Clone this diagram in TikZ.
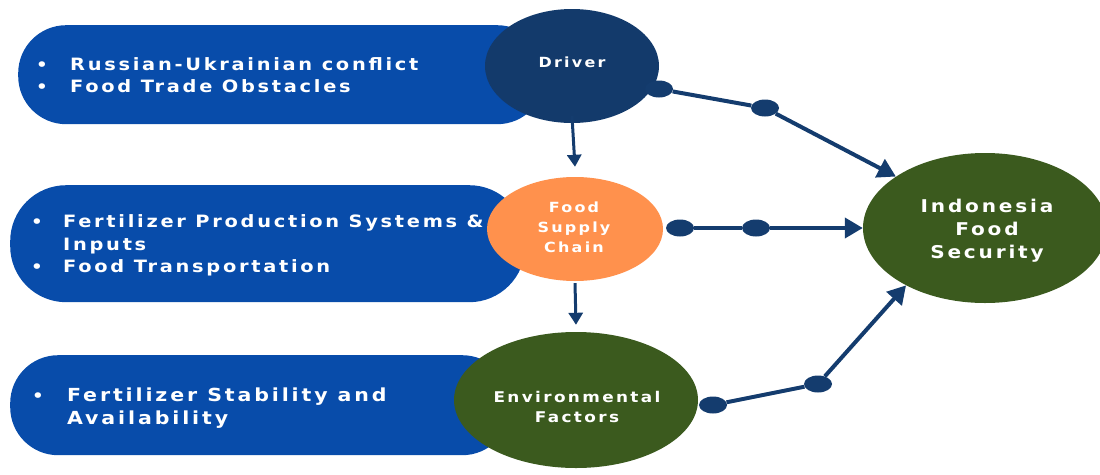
\documentclass[tikz,border=0pt]{standalone}
\usepackage{fontspec}
\setmainfont{DejaVu Sans}
\newfontfamily\lab{DejaVu Sans}[UprightFont=* Bold, LetterSpace=16, FakeStretch=1.14]
\usetikzlibrary{shapes.geometric,arrows.meta}
\definecolor{pillblue}{RGB}{8,76,170}
\definecolor{navyc}{RGB}{19,58,107}
\definecolor{orangec}{RGB}{255,145,77}
\definecolor{greenc}{RGB}{59,90,30}
\definecolor{arrowc}{RGB}{20,60,110}
\begin{document}
\begin{tikzpicture}[x=1pt,y=-1pt,
  pill/.style={fill=pillblue, rounded corners=48pt, anchor=north west, inner sep=0pt},
  blob/.style={ellipse, inner sep=0pt},
  txt/.style={text=white, inner sep=0pt, anchor=base west, font=\lab\fontsize{17}{20}\selectfont},
  ctxt/.style={text=white, inner sep=0pt, anchor=base, align=center, font=\lab\fontsize{14}{20}\selectfont},
  bul/.style={text=white, inner sep=0pt, anchor=base, font=\lab\fontsize{16}{20}\selectfont},
  dotc/.style={ellipse, fill=arrowc, minimum width=28pt, minimum height=17pt, inner sep=0pt},
  arr/.style={draw=arrowc, line width=4pt, -{Triangle[length=18pt,width=20pt]}},
  seg/.style={draw=arrowc, line width=4pt}
]
\useasboundingbox (0,0) rectangle (1100,474);
% pills
\node[pill, minimum width=527pt, minimum height=99pt] (p1) at (18,25) {};
\node[pill, minimum width=515pt, minimum height=117pt, rounded corners=56pt] (p2) at (10,185) {};
\node[pill, minimum width=500pt, minimum height=100pt] (p3) at (10,355) {};
% circles
\node[blob, fill=navyc, minimum width=174pt, minimum height=114pt] (drv) at (572,66) {};
\node[blob, fill=orangec, minimum width=176pt, minimum height=104pt] (fsc) at (575,229) {};
\node[blob, fill=greenc, minimum width=244pt, minimum height=136pt] (env) at (576,400) {};
\node[blob, fill=greenc, minimum width=244pt, minimum height=150pt] (ind) at (985,228) {};
% pill texts
\node[bul] (b1) at (42,70) {•};
\node[txt] (t1) at (70,70) {Russian-Ukrainian conflict};
\node[bul] (b2) at (42,92) {•};
\node[txt] (t2) at (70,92) {Food Trade Obstacles};
\node[bul] (b3) at (37,227) {•};
\node[txt] (t3) at (63,227) {Fertilizer Production Systems \&};
\node[txt] (t4) at (63,250) {Inputs};
\node[bul] (b4) at (37,272) {•};
\node[txt] (t5) at (63,272) {Food Transportation};
\node[bul] (b5) at (38,401) {•};
\node[txt, font=\lab\fontsize{18}{20}\selectfont] (t6) at (67,401) {Fertilizer Stability and};
\node[txt, font=\lab\fontsize{18}{20}\selectfont] (t7) at (67,424) {Availability};
% circle texts
\node[ctxt] (l1) at (572,67) {Driver};
\node[ctxt] (l2) at (574,212) {Food};
\node[ctxt] (l3) at (574,232) {Supply};
\node[ctxt] (l4) at (574,252) {Chain};
\node[ctxt, font=\lab\fontsize{14.8}{20}\selectfont] (l5) at (577,402) {Environmental};
\node[ctxt, font=\lab\fontsize{14.8}{20}\selectfont] (l6) at (577,422) {Factors};
\node[ctxt, font=\lab\fontsize{17.6}{20}\selectfont] (l7) at (987,212) {Indonesia};
\node[ctxt, font=\lab\fontsize{17.6}{20}\selectfont] (l8) at (987,235) {Food};
\node[ctxt, font=\lab\fontsize{17.6}{20}\selectfont] (l9) at (987,258) {Security};
% vertical arrows
\draw[arr, line width=3pt, -{Triangle[length=12pt,width=14pt]}] ([yshift=7pt]drv.south) -- ([yshift=10pt]fsc.north);
\draw[arr, line width=3pt, -{Triangle[length=12pt,width=14pt]}] ([yshift=-2pt]fsc.south) -- ([yshift=7pt]env.north);
% dots
\node[dotc] (d1) at (659,89) {};
\node[dotc] (d2) at (765,108) {};
\node[dotc] (f1) at (680,228) {};
\node[dotc] (f2) at (756,228) {};
\node[dotc] (e1) at (713,405) {};
\node[dotc] (e2) at (818,384) {};
% connectors
\draw[seg] (d1) -- (d2);
\draw[arr] (d2) -- (ind.150);
\draw[seg] (f1) -- (f2);
\draw[arr] (f2) -- (ind.west);
\draw[seg] (e1) -- (e2);
\draw[arr] (e2) -- (ind.216);
\end{tikzpicture}
\end{document}
